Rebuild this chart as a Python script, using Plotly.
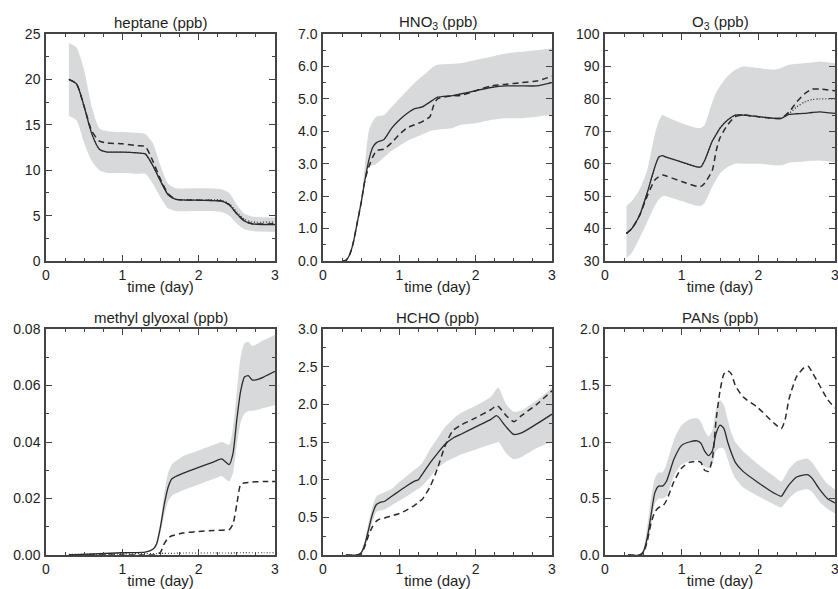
import plotly.graph_objects as go

# ---------------- data ----------------
# heptane
hep_t = [0.3, 0.4, 0.5, 0.6, 0.7, 0.8, 1.0, 1.2, 1.3, 1.4, 1.5, 1.6, 1.7, 2.0, 2.3, 2.4, 2.5, 2.6, 2.7, 3.0]
hep_mean = [20, 19.5, 17, 14, 12.3, 12.0, 12.0, 11.9, 11.8, 10.5, 8.8, 7.3, 6.8, 6.7, 6.6, 6.2, 5.2, 4.4, 4.1, 4.0]
hep_dash = [20, 19.5, 17, 14.3, 13.2, 13.0, 12.9, 12.7, 12.6, 11.0, 9.0, 7.4, 6.8, 6.7, 6.6, 6.2, 5.2, 4.4, 4.1, 4.1]
hep_dot = [20, 19.5, 17, 14, 12.3, 12.0, 12.0, 11.9, 11.8, 10.5, 8.8, 7.3, 6.8, 6.7, 6.7, 6.3, 5.4, 4.6, 4.3, 4.3]
hep_hi = [24, 23.5, 21, 17, 14.6, 14.3, 14.2, 14.1, 14.0, 13, 10.5, 8.5, 8.0, 8.0, 7.9, 7.5, 6.2, 5.2, 4.9, 4.8]
hep_lo = [16, 15.5, 13, 11, 10, 9.7, 9.7, 9.6, 9.6, 8.5, 7.0, 5.8, 5.5, 5.5, 5.4, 5.0, 4.1, 3.5, 3.3, 3.2]

# HNO3
hno3_t = [0.25, 0.3, 0.35, 0.4, 0.45, 0.5, 0.55, 0.6, 0.65, 0.7, 0.8, 0.9, 1.0, 1.1, 1.2, 1.3, 1.4, 1.45, 1.5, 1.7, 1.8, 2.0, 2.2, 2.4, 2.6, 2.8, 3.0]
hno3_mean = [0, 0.02, 0.2, 0.6, 1.2, 1.8, 2.5, 3.1, 3.5, 3.65, 3.75, 4.1, 4.35, 4.55, 4.7, 4.75, 4.9, 4.98, 5.05, 5.1, 5.15, 5.25, 5.35, 5.4, 5.4, 5.4, 5.5]
hno3_dash = [0, 0.02, 0.2, 0.6, 1.2, 1.8, 2.5, 2.9, 3.2, 3.4, 3.45, 3.65, 3.9, 4.1, 4.2, 4.3, 4.45, 4.8, 5.0, 5.1, 5.1, 5.25, 5.4, 5.45, 5.5, 5.55, 5.7]
hno3_hi = [0, 0.02, 0.2, 0.6, 1.2, 1.8, 3.0, 4.0, 4.3, 4.45, 4.5, 4.75, 5.0, 5.25, 5.5, 5.7, 5.9, 6.0, 6.05, 6.08, 6.1, 6.2, 6.3, 6.4, 6.45, 6.5, 6.55]
hno3_lo = [0, 0.02, 0.2, 0.6, 1.2, 1.8, 2.5, 2.9, 2.95, 3.0, 3.2, 3.4, 3.55, 3.7, 3.8, 3.9, 4.0, 4.03, 4.05, 4.1, 4.2, 4.25, 4.35, 4.4, 4.4, 4.45, 4.5]

# O3
o3_t = [0.28, 0.35, 0.45, 0.55, 0.65, 0.7, 0.75, 0.8, 1.0, 1.2, 1.25, 1.3, 1.4, 1.45, 1.5, 1.6, 1.7, 1.8, 2.0, 2.2, 2.3, 2.4, 2.5, 2.6, 2.7, 2.8, 3.0]
o3_mean = [38.5, 40, 44, 51, 59, 62, 62.5, 62, 60.5, 59, 59, 61, 67, 69, 71, 73.5, 75, 75, 74.5, 74, 74, 75.2, 75.4, 75.5, 75.8, 76, 75.5]
o3_dash = [38.5, 40, 44, 50, 55, 56, 56.5, 56.2, 54.5, 53, 53, 54, 58, 64, 68, 72, 74.5, 75, 74.5, 74, 74, 76, 79, 81.5, 83, 83, 82.5]
o3_dot = [38.5, 40, 44, 51, 59, 62, 62.5, 62, 60.5, 59, 59, 61, 67, 69, 71, 73.5, 75, 75, 74.5, 74, 74, 75.5, 77.5, 79, 79.8, 80, 80]
o3_hi = [47, 48.5, 52, 58, 69, 73, 75, 74.5, 72.5, 71, 71, 72, 79, 82, 84, 87, 89, 90, 89.5, 89, 89.5, 90.5, 90.8, 91, 91.2, 91.5, 91]
o3_lo = [31, 32.5, 37, 42, 47, 49, 50, 50, 48.5, 47, 47, 48, 53, 55, 57, 59, 60, 60, 60, 59.5, 59.5, 60.3, 60.5, 60.7, 60.9, 61, 60.5]

# methyl glyoxal
mg_t = [0.3, 1.0, 1.3, 1.4, 1.45, 1.5, 1.55, 1.6, 1.65, 1.8, 2.0, 2.2, 2.3, 2.35, 2.4, 2.45, 2.5, 2.55, 2.6, 2.65, 2.7, 2.75, 2.85, 3.0]
mg_mean = [0, 0.0008, 0.001, 0.002, 0.004, 0.01, 0.018, 0.024, 0.027, 0.029, 0.031, 0.033, 0.034, 0.033, 0.032, 0.036, 0.048, 0.058, 0.063, 0.0635, 0.062, 0.062, 0.063, 0.065]
mg_dash = [0, 0, 0, 0, 0.0002, 0.001, 0.004, 0.006, 0.0068, 0.0078, 0.0083, 0.0087, 0.0088, 0.0089, 0.009, 0.011, 0.018, 0.025, 0.0255, 0.0257, 0.0258, 0.0259, 0.026, 0.026]
mg_dot = [0.0002, 0.0004, 0.0005, 0.0005, 0.0005, 0.0006, 0.0006, 0.0006, 0.0006, 0.0007, 0.0007, 0.0007, 0.0007, 0.0007, 0.0007, 0.0007, 0.0008, 0.0008, 0.0008, 0.0008, 0.0008, 0.0008, 0.0008, 0.0008]
mg_hi = [0, 0.0008, 0.001, 0.002, 0.005, 0.012, 0.022, 0.029, 0.032, 0.035, 0.037, 0.039, 0.040, 0.0395, 0.039, 0.045, 0.058, 0.07, 0.075, 0.0755, 0.074, 0.0745, 0.076, 0.078]
mg_lo = [0, 0.0008, 0.001, 0.002, 0.003, 0.008, 0.014, 0.019, 0.021, 0.023, 0.025, 0.027, 0.028, 0.027, 0.026, 0.029, 0.039, 0.047, 0.050, 0.051, 0.051, 0.0512, 0.052, 0.053]

# HCHO
hc_t = [0.3, 0.45, 0.5, 0.55, 0.6, 0.65, 0.7, 0.75, 0.8, 0.9, 1.0, 1.1, 1.2, 1.25, 1.3, 1.4, 1.5, 1.6, 1.7, 1.8, 2.0, 2.2, 2.27, 2.3, 2.4, 2.5, 2.6, 2.8, 3.0]
hc_mean = [0, 0, 0.03, 0.15, 0.35, 0.55, 0.67, 0.7, 0.71, 0.78, 0.85, 0.92, 0.98, 1.0, 1.07, 1.22, 1.35, 1.47, 1.55, 1.6, 1.7, 1.8, 1.85, 1.83, 1.7, 1.6, 1.62, 1.74, 1.87]
hc_dash = [0, 0, 0.02, 0.12, 0.27, 0.38, 0.45, 0.48, 0.49, 0.52, 0.55, 0.6, 0.66, 0.7, 0.74, 0.9, 1.15, 1.45, 1.65, 1.72, 1.82, 1.93, 1.98, 1.97, 1.85, 1.77, 1.85, 2.0, 2.18]
hc_hi = [0, 0, 0.05, 0.2, 0.45, 0.65, 0.78, 0.81, 0.83, 0.88, 0.97, 1.05, 1.13, 1.17, 1.22, 1.4, 1.55, 1.7, 1.8, 1.88, 1.98, 2.1, 2.2, 2.22, 2.0, 1.9, 1.92, 2.05, 2.22]
hc_lo = [0, 0, 0.01, 0.1, 0.27, 0.45, 0.57, 0.59, 0.6, 0.66, 0.72, 0.78, 0.85, 0.88, 0.92, 1.03, 1.15, 1.23, 1.28, 1.33, 1.4, 1.47, 1.49, 1.5, 1.35, 1.27, 1.3, 1.42, 1.5]

# PANs
pan_t = [0.3, 0.45, 0.5, 0.55, 0.6, 0.65, 0.7, 0.75, 0.8, 0.9, 1.0, 1.1, 1.2, 1.25, 1.3, 1.35, 1.4, 1.45, 1.5, 1.55, 1.6, 1.65, 1.7, 1.8, 2.0, 2.2, 2.3, 2.35, 2.4, 2.5, 2.6, 2.65, 2.7, 2.8, 2.9, 3.0]
pan_mean = [0, 0, 0.03, 0.15, 0.35, 0.55, 0.61, 0.61, 0.65, 0.85, 0.97, 1.0, 1.01, 0.99, 0.92, 0.88, 0.92, 1.08, 1.15, 1.12, 1.0, 0.9, 0.82, 0.74, 0.64, 0.55, 0.52, 0.57, 0.62, 0.69, 0.71, 0.71, 0.68, 0.58, 0.5, 0.46]
pan_dash = [0, 0, 0.02, 0.12, 0.28, 0.38, 0.42, 0.43, 0.48, 0.65, 0.77, 0.82, 0.83, 0.82, 0.75, 0.74, 0.85, 1.2, 1.45, 1.6, 1.63, 1.6, 1.5, 1.4, 1.3, 1.17, 1.12, 1.2, 1.38, 1.58, 1.66, 1.67, 1.62, 1.5, 1.38, 1.3]
pan_hi = [0, 0, 0.05, 0.25, 0.5, 0.68, 0.73, 0.73, 0.8, 1.02, 1.15, 1.2, 1.21, 1.18, 1.1, 1.05, 1.1, 1.3, 1.37, 1.33, 1.2, 1.08, 1.0, 0.92, 0.8, 0.7, 0.65, 0.7, 0.76, 0.83, 0.85, 0.85, 0.82, 0.72, 0.63, 0.58]
pan_lo = [0, 0, 0.01, 0.1, 0.25, 0.45, 0.5, 0.5, 0.52, 0.7, 0.8, 0.83, 0.84, 0.82, 0.78, 0.77, 0.8, 0.92, 0.95, 0.94, 0.85, 0.75, 0.68, 0.6, 0.52, 0.45, 0.42, 0.46, 0.5, 0.56, 0.58, 0.58, 0.56, 0.47, 0.41, 0.37]

titles = ["heptane (ppb)", "HNO<sub>3</sub> (ppb)", "O<sub>3</sub> (ppb)",
          "methyl glyoxal (ppb)", "HCHO (ppb)", "PANs (ppb)"]
x_tickvals = [0, 1, 2, 3]
y_ranges = [[0, 25], [0, 7], [30, 100], [0, 0.08], [0, 3], [0, 2]]
y_dticks = [5, 1, 10, 0.02, 0.5, 0.5]
y_formats = ["d", ".1f", "d", ".2f", ".1f", ".1f"]

panels = [
    (hep_t, hep_mean, hep_dash, hep_dot, hep_hi, hep_lo),
    (hno3_t, hno3_mean, hno3_dash, None, hno3_hi, hno3_lo),
    (o3_t, o3_mean, o3_dash, o3_dot, o3_hi, o3_lo),
    (mg_t, mg_mean, mg_dash, mg_dot, mg_hi, mg_lo),
    (hc_t, hc_mean, hc_dash, None, hc_hi, hc_lo),
    (pan_t, pan_mean, pan_dash, None, pan_hi, pan_lo),
]

# ---------------- layout geometry ----------------
W, H = 838, 589
col_px = [(46, 275), (323, 552), (605, 835)]
row_px = [(34, 261), (329, 555)]

fig = go.Figure()
LINE = "#2b2b2b"
BAND = "#d8d9da"
FONT = "Liberation Sans, Arial, sans-serif"
TXT = "#1e1e1e"

layout = dict(
    width=W, height=H, margin=dict(l=0, r=0, t=0, b=0),
    paper_bgcolor="white", plot_bgcolor="white", showlegend=False,
    font=dict(family=FONT, size=14, color=TXT),
)
annotations = []

for i, (t, mean, dash, dot, hi, lo) in enumerate(panels):
    r, c = divmod(i, 3)
    xa = "x" if i == 0 else f"x{i+1}"
    ya = "y" if i == 0 else f"y{i+1}"
    fig.add_trace(go.Scatter(x=t, y=lo, mode="lines", line=dict(width=0, color=BAND, shape="spline", smoothing=0.6),
                             xaxis=xa, yaxis=ya, hoverinfo="skip"))
    fig.add_trace(go.Scatter(x=t, y=hi, mode="lines", line=dict(width=0, color=BAND, shape="spline", smoothing=0.6),
                             fill="tonexty", fillcolor=BAND, xaxis=xa, yaxis=ya, hoverinfo="skip"))
    if dot is not None:
        fig.add_trace(go.Scatter(x=t, y=dot, mode="lines",
                                 line=dict(width=1.2, color=LINE, dash="1px,2px", shape="spline", smoothing=0.6),
                                 xaxis=xa, yaxis=ya))
    fig.add_trace(go.Scatter(x=t, y=dash, mode="lines",
                             line=dict(width=1.5, color=LINE, dash="6px,4px", shape="spline", smoothing=0.6),
                             xaxis=xa, yaxis=ya))
    fig.add_trace(go.Scatter(x=t, y=mean, mode="lines",
                             line=dict(width=1.3, color=LINE, shape="spline", smoothing=0.6),
                             xaxis=xa, yaxis=ya))

    x0, x1 = col_px[c]
    ytop, ybot = row_px[r]
    xdom = [x0 / W, x1 / W]
    ydom = [1 - ybot / H, 1 - ytop / H]
    axis_common = dict(showline=True, linecolor="#444", linewidth=1.5, mirror="ticks",
                       ticks="inside", ticklen=6, tickwidth=1.2, tickcolor="#444",
                       showgrid=False, zeroline=False, automargin=False,
                       ticklabeloverflow="allow",
                       tickfont=dict(family=FONT, size=14, color=TXT))
    layout["xaxis" if i == 0 else f"xaxis{i+1}"] = dict(
        domain=xdom, anchor=ya, range=[0, 3], tickvals=x_tickvals,
        minor=dict(dtick=0.25, tick0=0, ticks="inside", ticklen=3.5, tickwidth=1, tickcolor="#444"),
        title=dict(text="time (day)", standoff=0, font=dict(family=FONT, size=15, color=TXT)),
        ticklabelstandoff=0,
        **axis_common)
    dy = y_dticks[i]
    layout["yaxis" if i == 0 else f"yaxis{i+1}"] = dict(
        domain=ydom, anchor=xa, range=y_ranges[i], dtick=dy, tick0=y_ranges[i][0],
        tickformat=y_formats[i],
        minor=dict(dtick=dy / 2, tick0=y_ranges[i][0], ticks="inside", ticklen=3.5, tickwidth=1, tickcolor="#444"),
        ticklabelstandoff=1,
        **axis_common)
    annotations.append(dict(text=titles[i], xref="paper", yref="paper",
                            x=(xdom[0] + xdom[1]) / 2, y=1 - (ytop - 12) / H,
                            xanchor="center", yanchor="middle", showarrow=False,
                            font=dict(family=FONT, size=15, color=TXT)))

layout["annotations"] = annotations
fig.update_layout(**layout)
fig.write_html("out.html", config={"displayModeBar": False},
               post_script="document.body.style.margin='0';document.body.style.overflow='hidden';")
